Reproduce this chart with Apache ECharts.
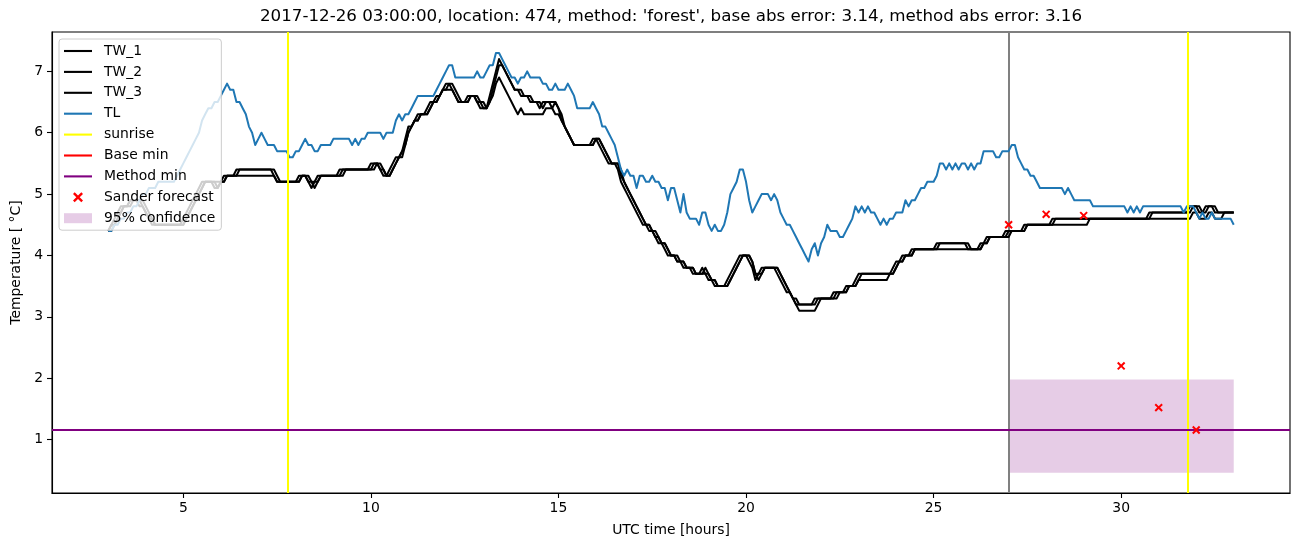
<!DOCTYPE html>
<html><head><meta charset="utf-8">
<script src="https://cdn.jsdelivr.net/npm/echarts@6/dist/echarts.min.js"></script>
<style>html,body{margin:0;padding:0;background:#fff}#chart{width:1302px;height:547px}</style>
</head><body><div id="chart"></div>
<script>
// time axis: samples every 5 minutes starting at 03:00 UTC
const startHour = 3;
const stepHours = 5 / 60;

const TL = [
4.4,4.4,4.5,4.5,4.6,4.6,4.7,4.7,4.8,4.8,
4.9,5.0,5.0,5.1,5.1,5.1,5.2,5.2,5.2,5.2,
5.2,5.2,5.3,5.4,5.5,5.6,5.7,5.8,5.9,6.0,
6.2,6.3,6.4,6.4,6.5,6.5,6.6,6.7,6.8,6.7,
6.7,6.5,6.5,6.4,6.3,6.1,6.0,5.8,5.9,6.0,
5.9,5.8,5.8,5.8,5.7,5.7,5.7,5.7,5.6,5.6,
5.7,5.7,5.8,5.9,5.8,5.8,5.7,5.7,5.8,5.8,
5.8,5.8,5.9,5.9,5.9,5.9,5.9,5.9,5.8,5.9,
5.8,5.9,5.9,6.0,6.0,6.0,6.0,6.0,5.9,6.0,
6.0,6.0,6.2,6.3,6.2,6.3,6.3,6.4,6.5,6.6,
6.6,6.6,6.6,6.6,6.6,6.7,6.8,6.9,7.0,7.1,
7.1,6.9,6.9,6.9,6.9,6.9,6.9,6.9,7.0,6.9,
6.9,7.0,7.1,7.1,7.3,7.3,7.2,7.1,7.0,6.9,
6.9,6.8,6.9,6.9,7.0,6.9,6.9,6.9,6.9,6.8,
6.8,6.7,6.7,6.8,6.7,6.7,6.7,6.8,6.7,6.6,
6.4,6.4,6.4,6.4,6.4,6.5,6.4,6.3,6.1,6.1,
6.0,5.9,5.8,5.6,5.4,5.3,5.4,5.3,5.3,5.1,
5.3,5.3,5.2,5.2,5.3,5.2,5.2,5.1,5.1,4.9,
5.1,5.1,4.9,4.7,5.0,4.7,4.6,4.6,4.6,4.5,
4.7,4.7,4.5,4.4,4.5,4.4,4.4,4.5,4.7,5.0,
5.1,5.2,5.4,5.4,5.2,4.9,4.7,4.8,4.9,5.0,
5.0,5.0,4.9,5.0,4.9,4.7,4.6,4.5,4.5,4.4,
4.3,4.2,4.1,4.0,3.9,4.1,4.2,4.0,4.2,4.3,
4.5,4.4,4.4,4.4,4.3,4.3,4.4,4.5,4.6,4.8,
4.7,4.8,4.7,4.8,4.7,4.7,4.6,4.5,4.6,4.5,
4.6,4.6,4.7,4.7,4.7,4.9,4.8,4.9,4.9,5.0,
5.1,5.1,5.2,5.2,5.2,5.3,5.5,5.5,5.4,5.5,
5.4,5.5,5.4,5.5,5.5,5.4,5.5,5.4,5.5,5.5,
5.7,5.7,5.7,5.7,5.6,5.6,5.7,5.7,5.7,5.8,
5.8,5.6,5.5,5.4,5.4,5.3,5.3,5.2,5.1,5.1,
5.1,5.1,5.1,5.1,5.1,5.1,5.0,5.1,5.0,4.9,
4.9,4.9,4.9,4.9,4.9,4.8,4.8,4.8,4.8,4.8,
4.8,4.8,4.8,4.8,4.8,4.8,4.7,4.8,4.7,4.8,
4.7,4.8,4.8,4.8,4.8,4.8,4.8,4.8,4.8,4.8,
4.8,4.8,4.8,4.8,4.7,4.8,4.8,4.8,4.7,4.6,
4.7,4.6,4.6,4.7,4.6,4.6,4.6,4.6,4.6,4.6,
4.5
];

const TW_1 = [
4.4,4.5,4.6,4.7,4.8,4.8,4.8,4.9,4.9,4.9,
4.9,4.8,4.7,4.6,4.5,4.5,4.5,4.5,4.5,4.5,
4.5,4.5,4.5,4.5,4.6,4.7,4.8,4.9,5.0,5.1,
5.2,5.2,5.2,5.2,5.2,5.1,5.2,5.3,5.3,5.3,
5.3,5.4,5.4,5.4,5.4,5.4,5.4,5.4,5.4,5.4,
5.4,5.4,5.4,5.3,5.2,5.2,5.2,5.2,5.2,5.2,
5.2,5.3,5.3,5.3,5.2,5.1,5.2,5.3,5.3,5.3,
5.3,5.3,5.3,5.3,5.4,5.4,5.4,5.4,5.4,5.4,
5.4,5.4,5.4,5.4,5.4,5.5,5.5,5.4,5.3,5.3,
5.4,5.5,5.6,5.6,5.7,5.9,6.1,6.1,6.2,6.3,
6.3,6.3,6.4,6.5,6.5,6.6,6.6,6.7,6.8,6.8,
6.7,6.6,6.5,6.5,6.5,6.6,6.6,6.6,6.5,6.5,
6.4,6.4,6.6,6.8,7.0,7.2,7.1,7.0,6.9,6.8,
6.7,6.7,6.6,6.6,6.6,6.5,6.5,6.5,6.4,6.5,
6.5,6.5,6.4,6.5,6.4,6.2,6.1,6.0,5.9,5.8,
5.8,5.8,5.8,5.8,5.8,5.9,5.9,5.8,5.7,5.6,
5.5,5.5,5.5,5.4,5.2,5.1,5.0,4.9,4.8,4.7,
4.6,4.5,4.5,4.4,4.4,4.3,4.2,4.2,4.1,4.0,
4.0,4.0,3.9,3.9,3.9,3.8,3.8,3.8,3.7,3.7,
3.8,3.7,3.6,3.6,3.5,3.5,3.5,3.5,3.6,3.7,
3.8,3.9,4.0,4.0,4.0,3.9,3.8,3.6,3.7,3.8,
3.8,3.8,3.8,3.8,3.7,3.6,3.5,3.4,3.4,3.3,
3.2,3.2,3.2,3.2,3.2,3.2,3.3,3.3,3.3,3.3,
3.3,3.3,3.4,3.4,3.4,3.4,3.5,3.5,3.5,3.6,
3.7,3.7,3.7,3.7,3.7,3.7,3.7,3.7,3.7,3.7,
3.7,3.8,3.9,3.9,4.0,4.0,4.0,4.1,4.1,4.1,
4.1,4.1,4.1,4.1,4.1,4.2,4.2,4.2,4.2,4.2,
4.2,4.2,4.2,4.2,4.2,4.1,4.1,4.1,4.1,4.2,
4.2,4.3,4.3,4.3,4.3,4.3,4.3,4.4,4.4,4.4,
4.4,4.4,4.4,4.5,4.5,4.5,4.5,4.5,4.5,4.5,
4.5,4.5,4.6,4.6,4.6,4.6,4.6,4.6,4.6,4.6,
4.6,4.6,4.6,4.6,4.6,4.6,4.6,4.6,4.6,4.6,
4.6,4.6,4.6,4.6,4.6,4.6,4.6,4.6,4.6,4.6,
4.6,4.6,4.6,4.7,4.7,4.7,4.7,4.7,4.7,4.7,
4.7,4.7,4.7,4.7,4.7,4.7,4.8,4.8,4.8,4.7,
4.7,4.8,4.8,4.8,4.7,4.7,4.7,4.7,4.7,4.7,
4.7
];

const TW_2 = [
4.4,4.4,4.5,4.6,4.7,4.8,4.8,4.8,4.9,4.9,
4.8,4.8,4.7,4.6,4.6,4.5,4.5,4.5,4.5,4.5,
4.5,4.5,4.5,4.5,4.5,4.6,4.7,4.8,4.9,5.0,
5.1,5.2,5.2,5.2,5.1,5.1,5.2,5.2,5.3,5.3,
5.3,5.3,5.3,5.3,5.3,5.3,5.3,5.3,5.3,5.3,
5.3,5.3,5.3,5.3,5.2,5.2,5.2,5.2,5.2,5.2,
5.2,5.2,5.3,5.3,5.2,5.2,5.2,5.2,5.3,5.3,
5.3,5.3,5.3,5.3,5.3,5.3,5.4,5.4,5.4,5.4,
5.4,5.4,5.4,5.4,5.4,5.4,5.5,5.4,5.4,5.3,
5.3,5.4,5.5,5.6,5.6,5.8,6.0,6.1,6.2,6.2,
6.3,6.3,6.3,6.4,6.5,6.5,6.6,6.7,6.7,6.7,
6.7,6.6,6.5,6.5,6.5,6.5,6.6,6.6,6.5,6.4,
6.4,6.4,6.5,6.6,6.8,6.9,6.8,6.7,6.6,6.5,
6.4,6.3,6.4,6.3,6.3,6.3,6.3,6.3,6.3,6.3,
6.4,6.4,6.4,6.3,6.3,6.2,6.1,6.0,5.9,5.8,
5.8,5.8,5.8,5.8,5.8,5.8,5.9,5.9,5.8,5.7,
5.6,5.5,5.5,5.5,5.3,5.2,5.1,5.0,4.9,4.8,
4.7,4.6,4.5,4.5,4.4,4.4,4.3,4.2,4.2,4.1,
4.0,4.0,3.9,3.9,3.8,3.8,3.8,3.7,3.7,3.7,
3.7,3.7,3.7,3.6,3.6,3.5,3.5,3.5,3.5,3.6,
3.7,3.8,3.9,4.0,4.0,4.0,3.9,3.7,3.7,3.7,
3.8,3.8,3.8,3.8,3.8,3.7,3.6,3.5,3.4,3.3,
3.2,3.1,3.1,3.1,3.1,3.1,3.1,3.2,3.3,3.3,
3.3,3.3,3.3,3.3,3.4,3.4,3.4,3.5,3.5,3.5,
3.6,3.6,3.6,3.6,3.6,3.6,3.6,3.6,3.6,3.6,
3.7,3.7,3.8,3.9,3.9,4.0,4.0,4.0,4.1,4.1,
4.1,4.1,4.1,4.1,4.1,4.1,4.1,4.1,4.1,4.1,
4.1,4.1,4.1,4.1,4.1,4.1,4.1,4.1,4.1,4.1,
4.2,4.2,4.3,4.3,4.3,4.3,4.3,4.3,4.4,4.4,
4.4,4.4,4.4,4.4,4.5,4.5,4.5,4.5,4.5,4.5,
4.5,4.5,4.5,4.5,4.5,4.5,4.5,4.5,4.5,4.5,
4.5,4.5,4.5,4.5,4.6,4.6,4.6,4.6,4.6,4.6,
4.6,4.6,4.6,4.6,4.6,4.6,4.6,4.6,4.6,4.6,
4.6,4.6,4.6,4.6,4.6,4.6,4.6,4.6,4.6,4.6,
4.6,4.6,4.6,4.6,4.6,4.6,4.6,4.7,4.7,4.6,
4.6,4.6,4.7,4.7,4.6,4.6,4.6,4.7,4.7,4.7,
4.7
];

const TW_3 = [
4.4,4.5,4.5,4.6,4.7,4.8,4.8,4.9,4.9,4.9,
4.9,4.9,4.8,4.7,4.6,4.5,4.5,4.5,4.5,4.5,
4.5,4.5,4.5,4.5,4.5,4.6,4.7,4.8,4.9,5.0,
5.1,5.2,5.2,5.2,5.2,5.2,5.2,5.2,5.3,5.3,
5.3,5.3,5.4,5.4,5.4,5.4,5.4,5.4,5.4,5.4,
5.4,5.4,5.4,5.4,5.3,5.2,5.2,5.2,5.2,5.2,
5.2,5.2,5.3,5.3,5.3,5.2,5.1,5.2,5.3,5.3,
5.3,5.3,5.3,5.3,5.3,5.4,5.4,5.4,5.4,5.4,
5.4,5.4,5.4,5.4,5.5,5.5,5.5,5.5,5.4,5.3,
5.3,5.4,5.5,5.6,5.7,5.8,6.0,6.1,6.2,6.2,
6.3,6.3,6.3,6.4,6.5,6.5,6.6,6.7,6.7,6.8,
6.8,6.7,6.6,6.5,6.5,6.5,6.6,6.6,6.6,6.5,
6.5,6.4,6.5,6.7,6.9,7.1,7.1,7.0,6.9,6.8,
6.7,6.7,6.7,6.6,6.6,6.6,6.5,6.5,6.5,6.4,
6.5,6.5,6.5,6.5,6.4,6.3,6.1,6.0,5.9,5.8,
5.8,5.8,5.8,5.8,5.8,5.8,5.9,5.9,5.8,5.7,
5.6,5.5,5.5,5.5,5.4,5.2,5.1,5.0,4.9,4.8,
4.7,4.6,4.5,4.5,4.4,4.3,4.3,4.2,4.2,4.1,
4.0,4.0,4.0,3.9,3.9,3.8,3.8,3.8,3.7,3.7,
3.7,3.8,3.7,3.6,3.6,3.5,3.5,3.5,3.5,3.6,
3.7,3.8,3.9,4.0,4.0,4.0,3.9,3.7,3.6,3.7,
3.8,3.8,3.8,3.8,3.8,3.7,3.6,3.5,3.4,3.3,
3.3,3.2,3.2,3.2,3.2,3.2,3.2,3.3,3.3,3.3,
3.3,3.3,3.3,3.4,3.4,3.4,3.4,3.5,3.5,3.5,
3.6,3.7,3.7,3.7,3.7,3.7,3.7,3.7,3.7,3.7,
3.7,3.7,3.8,3.9,3.9,4.0,4.0,4.0,4.1,4.1,
4.1,4.1,4.1,4.1,4.1,4.1,4.2,4.2,4.2,4.2,
4.2,4.2,4.2,4.2,4.2,4.2,4.1,4.1,4.1,4.1,
4.2,4.2,4.3,4.3,4.3,4.3,4.3,4.3,4.3,4.4,
4.4,4.4,4.4,4.4,4.5,4.5,4.5,4.5,4.5,4.5,
4.5,4.5,4.5,4.6,4.6,4.6,4.6,4.6,4.6,4.6,
4.6,4.6,4.6,4.6,4.6,4.6,4.6,4.6,4.6,4.6,
4.6,4.6,4.6,4.6,4.6,4.6,4.6,4.6,4.6,4.6,
4.6,4.6,4.6,4.6,4.7,4.7,4.7,4.7,4.7,4.7,
4.7,4.7,4.7,4.7,4.7,4.7,4.7,4.8,4.8,4.8,
4.7,4.7,4.8,4.8,4.8,4.7,4.7,4.7,4.7,4.7,
4.7
];

const sunriseHours = [7.79, 31.78];
const forecastStartHour = [27];
const baseMin = [1.155];
const methodMin = [1.155];
const sanderHours = [27, 28, 29, 30, 31, 32];
const sanderTemp = [4.50, 4.67, 4.65, 2.20, 1.52, 1.155];
const confidenceHours = [27, 33];
const confidenceTemp = [0.46, 1.98];
const xTicks = [5, 10, 15, 20, 25, 30];
const yTicks = [1, 2, 3, 4, 5, 6, 7];

[TL, TW_1, TW_2, TW_3].forEach((a, k) => {
  if (a.length !== 361) throw new Error('series ' + k + ' has length ' + a.length);
});

const toPairs = arr => arr.map((v, i) => [startHour + i * stepHours, v]);
const FONT = 'DejaVu Sans';
const LINE_ICON = 'path://M0,0H28V2.1H0Z';
const X_ICON = 'path://M0,1.7L1.7,0L5,3.3L8.3,0L10,1.7L6.7,5L10,8.3L8.3,10L5,6.7L1.7,10L0,8.3L3.3,5Z';

function lineSeries(name, data, color, extra) {
  return Object.assign({
    name, type: 'line', data: toPairs(data), showSymbol: false, symbol: 'none',
    color, itemStyle: { color }, lineStyle: { color, width: 2, join: 'round' },
    emphasis: { disabled: true }, silent: true
  }, extra || {});
}

const chart = echarts.init(document.getElementById('chart'), null, { renderer: 'canvas' });
chart.setOption({
  animation: false,
  backgroundColor: '#ffffff',
  textStyle: { fontFamily: FONT },
  title: {
    text: "2017-12-26 03:00:00, location: 474, method: 'forest', base abs error: 3.14, method abs error: 3.16",
    left: 671, top: 8, textAlign: 'center', padding: 0,
    textStyle: { fontFamily: FONT, fontSize: 16.7, fontWeight: 'normal', color: '#000' }
  },
  grid: { left: 52, right: 12, top: 32, bottom: 54, show: true, borderColor: '#000', borderWidth: 1.1,
          containLabel: false, outerBoundsMode: 'none' },
  xAxis: {
    type: 'value', min: 1.5, max: 34.5,
    name: 'UTC time [hours]', nameLocation: 'middle', nameGap: 30,
    nameTextStyle: { fontFamily: FONT, fontSize: 13.9, color: '#000' },
    axisLine: { show: true, onZero: false, lineStyle: { color: '#000', width: 1.1 } },
    axisTick: { show: true, length: 5, lineStyle: { color: '#000', width: 1.1 }, customValues: xTicks },
    axisLabel: { color: '#000', fontSize: 13.9, fontFamily: FONT, margin: 8, customValues: xTicks },
    splitLine: { show: false }
  },
  yAxis: {
    type: 'value', min: 0.1285, max: 7.6415,
    name: 'Temperature [ °C]', nameLocation: 'middle', nameGap: 27, nameRotate: 90,
    nameTextStyle: { fontFamily: FONT, fontSize: 13.9, color: '#000' },
    axisLine: { show: true, onZero: false, lineStyle: { color: '#000', width: 1.1 } },
    axisTick: { show: true, length: 5, lineStyle: { color: '#000', width: 1.1 }, customValues: yTicks },
    axisLabel: { color: '#000', fontSize: 13.9, fontFamily: FONT, margin: 9, customValues: yTicks },
    splitLine: { show: false }
  },
  legend: {
    orient: 'vertical', left: 59, top: 39,
    padding: [4, 6, 4, 5],
    itemWidth: 28, itemHeight: 10, itemGap: 4.9,
    backgroundColor: 'rgba(255,255,255,0.8)', borderColor: '#cccccc', borderWidth: 1, borderRadius: 3,
    selectedMode: false,
    textStyle: { fontFamily: FONT, fontSize: 13.9, color: '#000', lineHeight: 16, padding: [0, 0, 0, 7] },
    data: [
      { name: 'TW_1', icon: LINE_ICON, itemStyle: { color: '#000000' } },
      { name: 'TW_2', icon: LINE_ICON, itemStyle: { color: '#000000' } },
      { name: 'TW_3', icon: LINE_ICON, itemStyle: { color: '#000000' } },
      { name: 'TL', icon: LINE_ICON, itemStyle: { color: '#1f77b4' } },
      { name: 'sunrise', icon: LINE_ICON, itemStyle: { color: '#ffff00' } },
      { name: 'Base min', icon: LINE_ICON, itemStyle: { color: '#ff0000' } },
      { name: 'Method min', icon: LINE_ICON, itemStyle: { color: '#800080' } },
      { name: 'Sander forecast', icon: X_ICON, itemStyle: { color: '#ff0000' } },
      { name: '95% confidence', icon: 'rect', itemStyle: { color: 'rgba(128,0,128,0.2)' } }
    ]
  },
  series: [
    {
      name: '95% confidence', type: 'line', data: [], color: 'rgba(128,0,128,0.2)', z: 1, silent: true,
      markArea: {
        silent: true, z: 1,
        itemStyle: { color: 'rgba(128,0,128,0.2)' },
        label: { show: false },
        data: [[{ xAxis: confidenceHours[0], yAxis: confidenceTemp[0] }, { xAxis: confidenceHours[1], yAxis: confidenceTemp[1] }]]
      }
    },
    lineSeries('TW_1', TW_1, '#000000'),
    lineSeries('TW_2', TW_2, '#000000'),
    lineSeries('TW_3', TW_3, '#000000'),
    lineSeries('TL', TL, '#1f77b4', {
      markLine: {
        silent: true, z: 3, symbol: ['none', 'none'], label: { show: false },
        lineStyle: { color: '#808080', width: 2, type: 'solid' },
        data: forecastStartHour.map(h => ({ xAxis: h }))
      }
    }),
    {
      name: 'sunrise', type: 'line', data: [], color: '#ffff00', silent: true,
      markLine: {
        silent: true, z: 4, symbol: ['none', 'none'], label: { show: false },
        lineStyle: { color: '#ffff00', width: 2, type: 'solid' },
        data: sunriseHours.map(h => ({ xAxis: h }))
      }
    },
    {
      name: 'Base min', type: 'line', data: [], color: '#ff0000', silent: true, z: 3,
      markLine: {
        silent: true, z: 5, symbol: ['none', 'none'], label: { show: false },
        lineStyle: { color: '#ff0000', width: 2.1, type: 'solid' },
        data: baseMin.map(v => ({ yAxis: v }))
      }
    },
    {
      name: 'Method min', type: 'line', data: [], color: '#800080', silent: true, z: 4, zlevel: 1,
      markLine: {
        silent: true, z: 6, zlevel: 1, symbol: ['none', 'none'], label: { show: false },
        lineStyle: { color: '#800080', width: 2.1, type: 'solid' },
        data: methodMin.map(v => ({ yAxis: v }))
      }
    },
    {
      name: 'Sander forecast', type: 'scatter', silent: true, zlevel: 1,
      data: sanderHours.map((h, i) => [h, sanderTemp[i]]),
      symbol: X_ICON, symbolSize: 8.3, color: '#ff0000', itemStyle: { color: '#ff0000', opacity: 1 }, z: 7
    }
  ]
});
</script>
</body></html>
